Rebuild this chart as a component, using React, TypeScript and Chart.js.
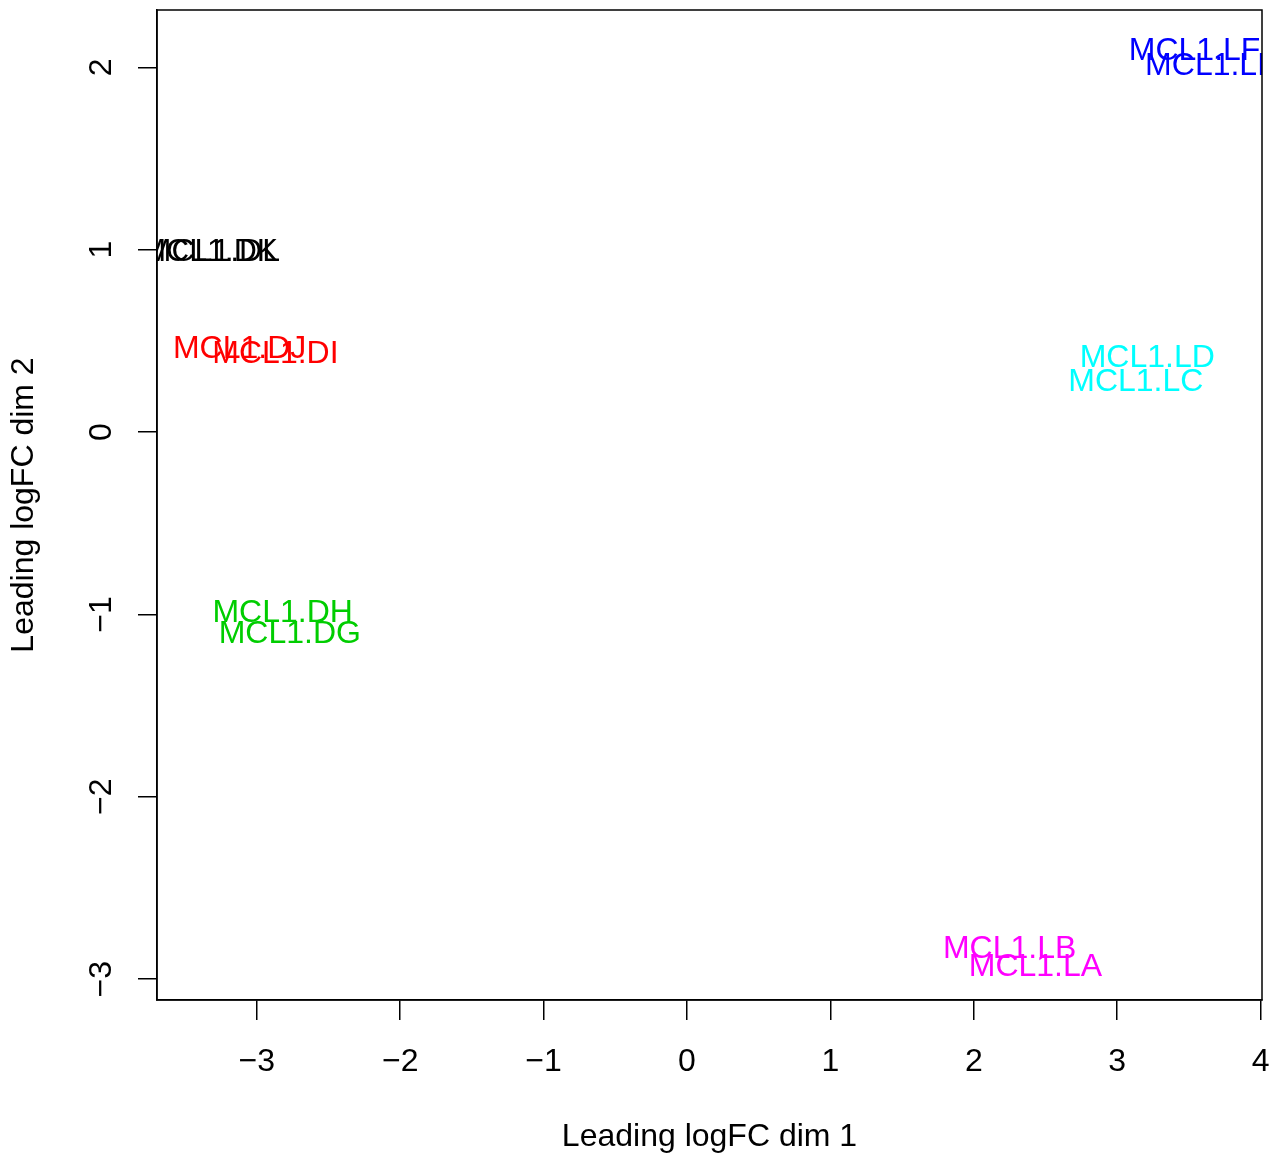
import React, { useEffect, useRef } from "react";
import { Chart, registerables } from "chart.js";

Chart.register(...registerables);

const sampleNames = [
  "MCL1.DG", "MCL1.DH", "MCL1.DI", "MCL1.DJ", "MCL1.DK", "MCL1.DL",
  "MCL1.LA", "MCL1.LB", "MCL1.LC", "MCL1.LD", "MCL1.LE", "MCL1.LF",
];
const dim1 = [-2.77, -2.82, -2.87, -3.12, -3.335, -3.31, 2.43, 2.25, 3.13, 3.21, 3.66, 3.54];
const dim2 = [-1.096, -0.976, 0.44, 0.47, 1.0, 1.0, -2.92, -2.82, 0.29, 0.42, 2.02, 2.105];
const sampleColors = [
  "#00CD00", "#00CD00", "#FF0000", "#FF0000", "#000000", "#000000",
  "#FF00FF", "#FF00FF", "#00FFFF", "#00FFFF", "#0000FF", "#0000FF",
];
const xTicks = [-3, -2, -1, 0, 1, 2, 3, 4];
const yTicks = [-3, -2, -1, 0, 1, 2];
const xRange = [-3.696, 4.01];
const yRange = [-3.114, 2.314];
const xTitle = "Leading logFC dim 1";
const yTitle = "Leading logFC dim 2";

const FONT = "'Liberation Sans', Arial, Helvetica, sans-serif";
const fmt = (v: number) => (v < 0 ? "\u2212" + Math.abs(v) : String(v));

const labelPlugin = {
  id: "textLabels",
  afterDatasetsDraw(chart: any) {
    const { ctx, chartArea } = chart;
    const meta = chart.getDatasetMeta(0);
    ctx.save();
    ctx.beginPath();
    ctx.rect(chartArea.left, chartArea.top, chartArea.right - chartArea.left, chartArea.bottom - chartArea.top);
    ctx.clip();
    ctx.font = `32px ${FONT}`;
    ctx.textAlign = "center";
    ctx.textBaseline = "alphabetic";
    meta.data.forEach((el: any, i: number) => {
      ctx.fillStyle = sampleColors[i];
      ctx.fillText(sampleNames[i], el.x, el.y + 11.5);
    });
    ctx.restore();
    ctx.save();
    ctx.strokeStyle = "#000";
    ctx.lineWidth = 1.5;
    ctx.strokeRect(chartArea.left, chartArea.top, chartArea.right - chartArea.left, chartArea.bottom - chartArea.top);
    ctx.restore();
  },
};

export default function App() {
  const ref = useRef<HTMLCanvasElement>(null);
  useEffect(() => {
    document.body.style.margin = "0";
    const canvas = ref.current!;
    const chart = new Chart(canvas, {
      type: "scatter",
      data: {
        datasets: [
          {
            data: dim1.map((x, i) => ({ x, y: dim2[i] })),
            pointRadius: 0,
            pointHoverRadius: 0,
          },
        ],
      },
      options: {
        animation: false,
        responsive: false,
        events: [],
        layout: { padding: { left: 0, right: 14, top: 10, bottom: 0 } },
        plugins: { legend: { display: false }, tooltip: { enabled: false } },
        scales: {
          x: {
            type: "linear",
            min: xRange[0],
            max: xRange[1],
            afterBuildTicks: (s: any) => {
              s.ticks = xTicks.map((v) => ({ value: v }));
            },
            afterFit: (s: any) => {
              s.height = 156;
              s.paddingLeft = 0;
              s.paddingRight = 0;
              s.paddingTop = 0;
              s.paddingBottom = 0;
            },
            grid: { drawOnChartArea: false, drawTicks: true, tickLength: 20, color: "#000", lineWidth: 1.5 },
            border: { display: true, color: "#000", width: 1.5 },
            ticks: {
              color: "#000",
              font: { family: FONT, size: 32 },
              padding: 23,
              maxRotation: 0,
              autoSkip: false,
              callback: (v: any) => fmt(Number(v)),
            },
            title: {
              display: true,
              text: xTitle,
              color: "#000",
              font: { family: FONT, size: 32 },
              padding: { top: 0, bottom: 0 },
            },
          },
          y: {
            type: "linear",
            min: yRange[0],
            max: yRange[1],
            afterBuildTicks: (s: any) => {
              s.ticks = yTicks.map((v) => ({ value: v }));
            },
            afterFit: (s: any) => {
              s.width = 157;
              s.paddingLeft = 0;
              s.paddingRight = 0;
              s.paddingTop = 0;
              s.paddingBottom = 0;
            },
            grid: { drawOnChartArea: false, drawTicks: true, tickLength: 19, color: "#000", lineWidth: 1.5 },
            border: { display: true, color: "#000", width: 1.5 },
            ticks: {
              color: "#000",
              font: { family: FONT, size: 32 },
              padding: 18,
              minRotation: 90,
              maxRotation: 90,
              crossAlign: "center",
              autoSkip: false,
              callback: (v: any) => fmt(Number(v)),
            },
            title: {
              display: true,
              text: yTitle,
              color: "#000",
              font: { family: FONT, size: 32 },
              padding: { top: 5, bottom: 0 },
            },
          },
        },
      },
      plugins: [labelPlugin],
    } as any);
    return () => chart.destroy();
  }, []);
  return (
    <div style={{ width: 1276, height: 1156 }}>
      <canvas ref={ref} width={1276} height={1156} style={{ display: "block" }} />
    </div>
  );
}
